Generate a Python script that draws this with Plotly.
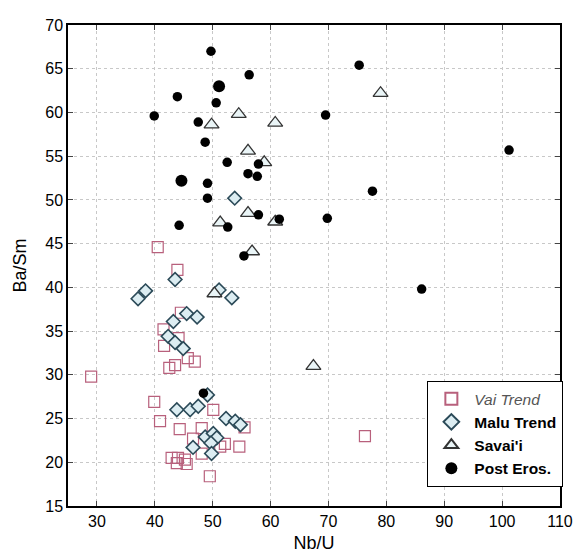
import plotly.graph_objects as go

# Vai Trend (open squares)
vai_x = [40.5, 43.9, 44.5, 41.5, 44.1, 41.6, 42.5, 43.5, 45.7, 46.9, 29.0, 39.9, 50.1, 40.9,
         55.5, 44.3, 48.1, 46.6, 52.1, 51.3, 54.6, 48.1, 42.9, 44.0, 45.2, 43.8, 45.5, 49.5, 76.3]
vai_y = [44.6, 42.0, 37.1, 35.2, 34.2, 33.3, 30.8, 31.1, 31.9, 31.5, 29.8, 26.9, 26.0, 24.7,
         24.0, 23.8, 23.9, 22.7, 22.1, 21.8, 21.8, 21.0, 20.5, 20.5, 20.3, 19.9, 19.8, 18.4, 23.0]

# Malu Trend (diamonds)
malu_x = [37.1, 38.4, 43.5, 53.8, 51.1, 53.3, 45.5, 47.3, 43.2, 42.3, 43.5, 44.9, 49.1, 43.8,
          46.1, 47.5, 52.3, 53.9, 54.8, 48.7, 50.1, 50.7, 49.7, 46.6, 49.8]
malu_y = [38.7, 39.6, 40.9, 50.2, 39.7, 38.8, 37.0, 36.6, 36.1, 34.4, 33.7, 33.0, 27.7, 26.0,
          26.0, 26.4, 25.0, 24.7, 24.3, 22.9, 23.3, 22.8, 22.2, 21.7, 21.0]

# Savai'i (triangles)
sav_x = [54.5, 49.8, 60.8, 56.1, 58.9, 79.0, 56.1, 60.8, 51.3, 56.8, 50.3, 67.4]
sav_y = [59.8, 58.6, 58.8, 55.6, 54.3, 62.2, 48.5, 47.5, 47.4, 44.1, 39.3, 31.0]

# Post Erosional (filled circles)
pe_x = [49.7, 56.3, 51.1, 43.9, 50.6, 39.9, 47.5, 48.7, 69.5, 52.5, 57.9, 56.1, 57.7, 44.6,
        49.1, 49.1, 57.9, 61.5, 52.6, 44.2, 55.4, 75.3, 101.2, 77.6, 69.8, 86.1, 48.4]
pe_y = [67.0, 64.3, 63.0, 61.8, 61.1, 59.6, 58.9, 56.6, 59.7, 54.3, 54.1, 53.0, 52.7, 52.2,
        51.9, 50.2, 48.3, 47.8, 46.9, 47.1, 43.6, 65.4, 55.7, 51.0, 47.9, 39.8, 27.9]
pe_big = [False, False, True, False, False, False, False, False, False, False, False, False, False, True,
          False, False, False, False, False, False, False, False, False, False, False, False, False]

x_ticks = [30, 40, 50, 60, 70, 80, 90, 100, 110]
y_ticks = [15, 20, 25, 30, 35, 40, 45, 50, 55, 60, 65, 70]

fig = go.Figure()
fig.add_trace(go.Scatter(
    x=vai_x, y=vai_y, mode="markers",
    name="<i><span style='color:#555555'>Vai Trend</span></i>",
    marker=dict(symbol="square-open", size=11, color="#b8607c", line=dict(width=1.2))))
fig.add_trace(go.Scatter(
    x=malu_x, y=malu_y, mode="markers", name="<b>Malu Trend</b>",
    marker=dict(symbol="diamond", size=10.5, color="#dcedf2",
                line=dict(color="#2b4a58", width=1.6))))
fig.add_trace(go.Scatter(
    x=sav_x, y=sav_y, mode="markers", name="<b>Savai'i</b>",
    marker=dict(symbol="triangle-up", size=13, color="#eaf5f7",
                line=dict(color="#333333", width=1.3))))
fig.add_trace(go.Scatter(
    x=pe_x, y=pe_y, mode="markers", name="<b>Post Eros.</b>",
    marker=dict(symbol="circle", size=[12 if b else 9.5 for b in pe_big], color="black",
                opacity=1, line=dict(width=0))))

fig.update_layout(
    width=581, height=559,
    margin=dict(l=60, r=29, t=9, b=61),
    paper_bgcolor="white", plot_bgcolor="white",
    font=dict(family="Liberation Sans, Arial, sans-serif", size=16, color="black"),
    legend=dict(x=0.73, y=0.26, xanchor="left", yanchor="top",
                bgcolor="white", bordercolor="black", borderwidth=1.2,
                font=dict(size=15.5), itemsizing="constant", itemwidth=36,
                tracegroupgap=0),
    showlegend=True,
)
fig.update_xaxes(
    range=[25, 110], tickvals=x_ticks, ticks="inside", ticklen=5,
    showline=True, linecolor="black", linewidth=1.5, mirror="ticks",
    showgrid=True, gridcolor="#c8c8c8", griddash="dot", gridwidth=1, zeroline=False,
    title=dict(text="Nb/U", font=dict(size=18), standoff=7))
fig.update_yaxes(
    range=[15, 70], tickvals=y_ticks, ticks="inside", ticklen=5,
    showline=True, linecolor="black", linewidth=1.5, mirror="ticks",
    showgrid=True, gridcolor="#c8c8c8", griddash="dot", gridwidth=1, zeroline=False,
    title=dict(text="Ba/Sm", font=dict(size=18), standoff=14))

fig.write_html("out.html")
